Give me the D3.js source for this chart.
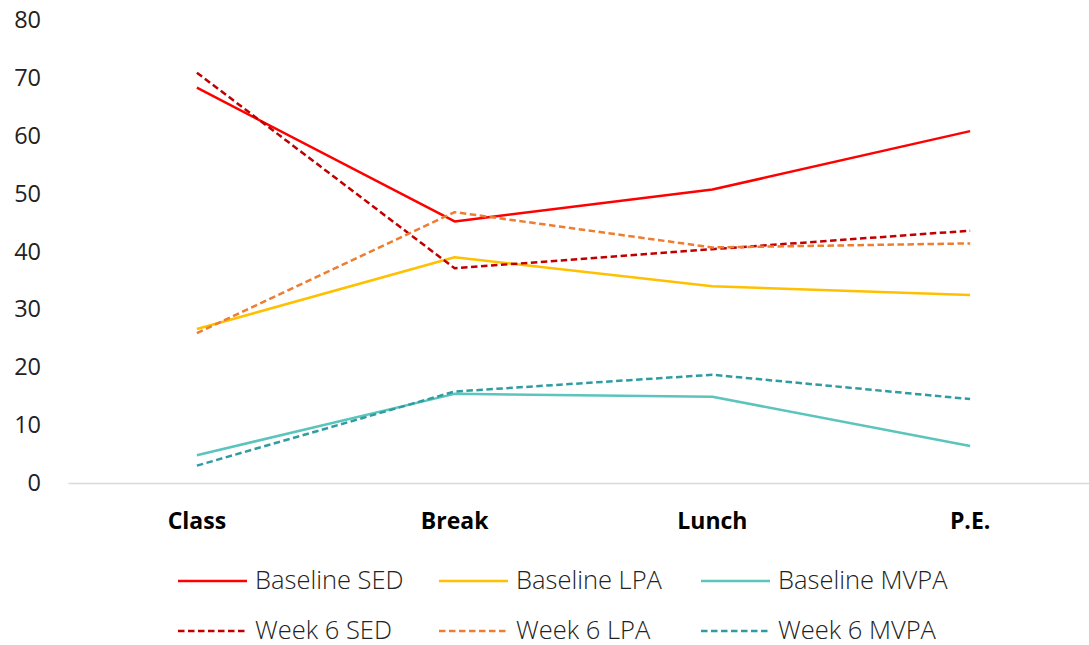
<!DOCTYPE html>
<html>
<head>
<meta charset="utf-8">
<script src="https://cdn.jsdelivr.net/npm/d3@7"></script>
<style>
  html, body { margin: 0; padding: 0; background: #fff; }
  svg { display: block; font-family: "Open Sans", "Noto Sans", sans-serif; }
</style>
</head>
<body>
<svg id="chart" width="1089" height="645"></svg>
<script>
// Time-use shares (%) by school period
const categories = ["Class", "Break", "Lunch", "P.E."];
const yTicks = [0, 10, 20, 30, 40, 50, 60, 70, 80];

const baselineSED  = [68.3, 45.2, 50.7, 60.8];
const baselineLPA  = [26.6, 39.0, 34.0, 32.5];
const baselineMVPA = [4.8, 15.4, 14.9, 6.4];
const week6SED     = [70.9, 37.1, 40.4, 43.6];
const week6LPA     = [25.9, 46.8, 40.7, 41.4];
const week6MVPA    = [3.0, 15.8, 18.7, 14.5];

const seriesNames = ["Baseline SED", "Baseline LPA", "Baseline MVPA", "Week 6 SED", "Week 6 LPA", "Week 6 MVPA"];
const seriesValues = [baselineSED, baselineLPA, baselineMVPA, week6SED, week6LPA, week6MVPA];
const seriesColors = ["#FF0000", "#FFC000", "#5BC4BC", "#C00000", "#ED7D31", "#2E9CA0"];
const seriesDashed = [false, false, false, true, true, true];

const svg = d3.select("#chart");

const x = d3.scaleBand().domain(categories).range([68, 1099]);
const y = d3.scaleLinear().domain([0, 80]).range([483, 20]);

// Category axis: baseline only, bold labels
const xAxis = svg.append("g")
  .attr("transform", `translate(0,${y(0)})`)
  .call(d3.axisBottom(x).tickSize(0).tickPadding(30));
xAxis.select(".domain").attr("stroke", "#D9D9D9").attr("stroke-width", 1.3);
xAxis.selectAll("text")
  .attr("fill", "#000").style("font-size", "23px").style("font-weight", "bold")
  .style("font-family", "'Open Sans', sans-serif");

// Value axis: labels only
const yAxis = svg.append("g")
  .attr("transform", "translate(41,0)")
  .call(d3.axisLeft(y).tickValues(yTicks).tickSize(0).tickPadding(0));
yAxis.select(".domain").remove();
yAxis.selectAll("text")
  .attr("fill", "#222").style("font-size", "23.5px")
  .style("font-family", "'Open Sans', sans-serif");

const line = d3.line()
  .x((d, i) => x(categories[i]) + x.bandwidth() / 2)
  .y(d => y(d));

const seriesData = seriesNames.map((name, k) => ({
  name, values: seriesValues[k], color: seriesColors[k], dashed: seriesDashed[k]
}));

svg.append("g").selectAll("path")
  .data(seriesData)
  .join("path")
  .attr("d", d => line(d.values))
  .attr("fill", "none")
  .attr("stroke", d => d.color)
  .attr("stroke-width", 2.5)
  .attr("stroke-dasharray", d => d.dashed ? "6.5,3.5" : null)
  .attr("stroke-linejoin", "round");

// Legend: two rows of three
const legendCols = [178, 439, 701];
const legendRows = [581, 631];
const legend = svg.append("g").selectAll("g")
  .data(seriesData)
  .join("g")
  .attr("transform", (d, i) => `translate(${legendCols[i % 3]},${legendRows[Math.floor(i / 3)]})`);
legend.append("line")
  .attr("x1", 0).attr("x2", 69).attr("y1", 0).attr("y2", 0)
  .attr("stroke", d => d.color).attr("stroke-width", 2.5)
  .attr("stroke-dasharray", d => d.dashed ? "6.5,3.5" : null);
legend.append("text")
  .attr("x", 77).attr("y", 8)
  .attr("fill", "#222")
  .style("font-size", "25.5px")
  .style("font-weight", 300)
  .text(d => d.name);
</script>
</body>
</html>
